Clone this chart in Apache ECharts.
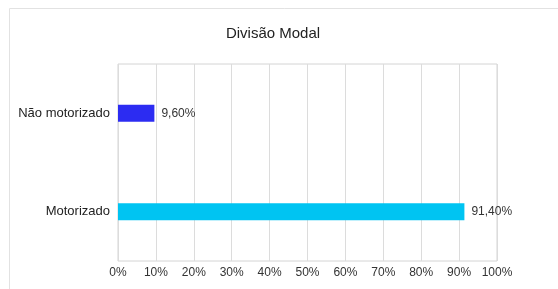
<!DOCTYPE html>
<html>
<head>
<meta charset="utf-8">
<script src="https://cdn.jsdelivr.net/npm/echarts@6/dist/echarts.min.js"></script>
<style>
    html, body { margin: 0; padding: 0; background: #fff; }
    #chart { width: 558px; height: 289px; }
</style>
</head>
<body>
<div id="chart"></div>
<script>
// dados
var categorias = ['Motorizado', 'Não motorizado'];
var valores = [91.4, 9.6];
var cores = ['#00c4f2', '#2c2cf2'];
var ticks = [0, 10, 20, 30, 40, 50, 60, 70, 80, 90, 100];

var dom = document.getElementById("chart");
var myChart = echarts.init(dom);
var option = null;
option = {
    backgroundColor: '#fff',
    animation: false,
    textStyle: {
        fontFamily: 'Liberation Sans, Arial, sans-serif'
    },
    title: {
        text: 'Divisão Modal',
        left: 268,
        textAlign: 'center',
        top: 21,
        textStyle: {
            color: '#222',
            fontSize: 15,
            fontWeight: 'normal'
        }
    },
    graphic: [
        {
            type: 'rect',
            shape: { x: 9.5, y: 8.5, width: 600, height: 320 },
            style: { fill: 'none', stroke: '#e2e2e2', lineWidth: 1 },
            silent: true
        }
    ],
    grid: {
        left: 118,
        right: 61,
        top: 64,
        bottom: 28,
        show: true,
        borderColor: '#d4d4d4',
        borderWidth: 1
    },
    xAxis: {
        type: 'value',
        min: ticks[0],
        max: ticks[ticks.length - 1],
        interval: 10,
        axisLine: { show: false },
        axisTick: { show: false },
        splitLine: { show: true, lineStyle: { color: '#dcdcdc' } },
        axisLabel: {
            color: '#333',
            fontSize: 12,
            margin: 6,
            formatter: function (v) { return v + '%'; }
        }
    },
    yAxis: {
        type: 'category',
        data: categorias,
        axisLine: { show: false },
        axisTick: { show: false },
        axisLabel: { color: '#222', fontSize: 13, margin: 8 }
    }
};
option.series = [
    {
        type: 'bar',
        barWidth: 17,
        data: valores.map(function (v, i) {
            return { value: v, itemStyle: { color: cores[i] } };
        }),
        label: {
            show: true,
            position: 'right',
            distance: 7,
            color: '#333',
            fontSize: 12,
            formatter: function (p) {
                return p.value.toFixed(2).replace('.', ',') + '%';
            }
        }
    }
];

if (option && typeof option === "object") {
    myChart.setOption(option, true);
}
</script>
</body>
</html>
